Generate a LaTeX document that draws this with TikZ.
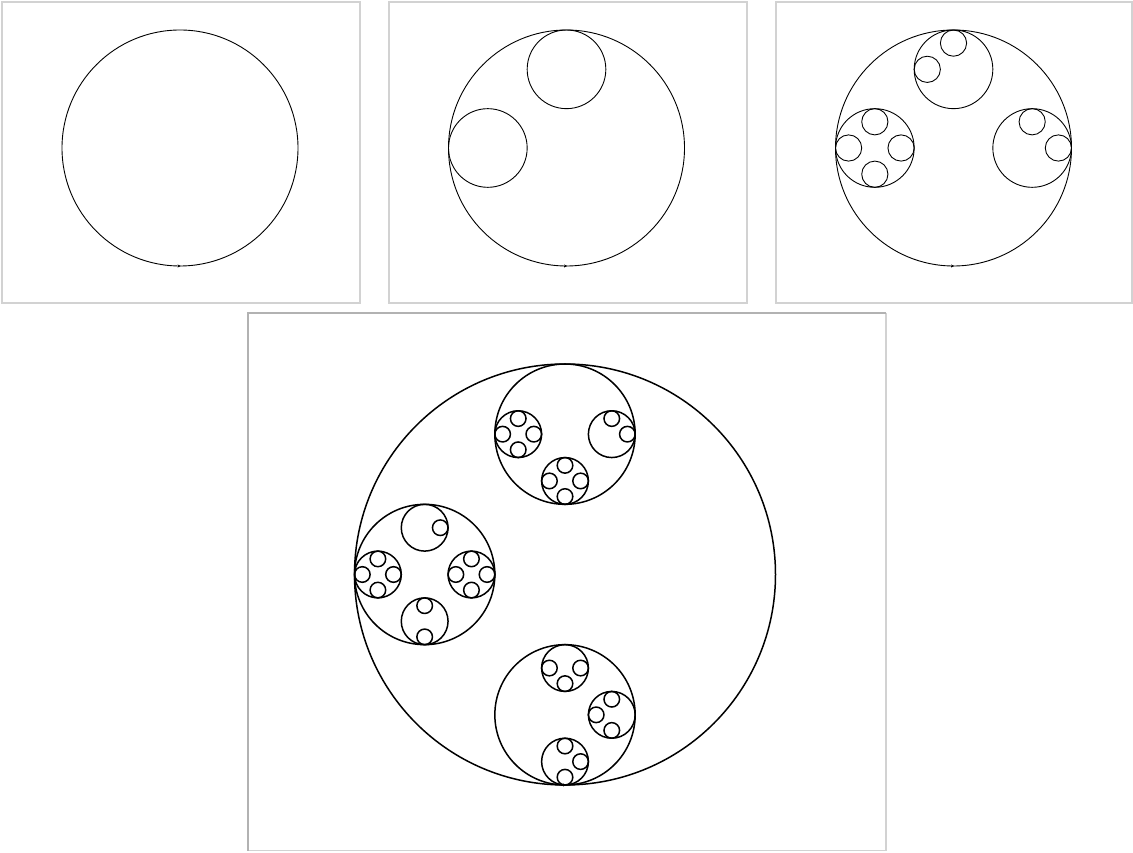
\documentclass[tikz,border=0pt]{standalone}
\usepackage{tikz}
\usetikzlibrary{arrows.meta}

\tikzset{
  frame/.style={draw=gray!35, line width=1.6pt},
  kid/.style={shift={(#1:2/3)}, scale=1/3},
}
% leaf rings inside the current circle
\newcommand{\smallrings}[1]{\foreach \a in {#1} {\draw (\a:2/3) circle (1/3);}}
% outer circle with its tick
\newcommand{\basering}{%
  \draw (0,0) circle (1);
  \draw[-{Stealth[length=3pt,width=3pt]}] (-0.02,-1) -- (0.005,-1);}

\begin{document}
\begin{tikzpicture}[x=1pt, y=1pt]
  \useasboundingbox (0,0) rectangle (1133,852);

  % --- frames ---
  \draw[frame] (2,850) rectangle (360,549);
  \draw[frame] (389,850) rectangle (747,549);
  \draw[frame] (776,850) rectangle (1132,549);
  \draw[frame] (886,539) -- (886,1.5) -- (248,1.5);
  \draw[frame, draw=gray!60] (248,1.5) -- (248,539) -- (886,539);

  % --- step 1 ---
  \begin{scope}[shift={(180,704)}, scale=118, line width=0.9pt]
    \basering
  \end{scope}

  % --- step 2 ---
  \begin{scope}[shift={(566.5,704)}, scale=118, line width=0.9pt]
    \basering
    \smallrings{90,180}
  \end{scope}

  % --- step 3 ---
  \begin{scope}[shift={(953.5,704)}, scale=118, line width=0.9pt]
    \basering
    \begin{scope}[kid=90]  \draw (0,0) circle (1); \smallrings{90,180} \end{scope}
    \begin{scope}[kid=180] \draw (0,0) circle (1); \smallrings{90,180,0,270} \end{scope}
    \begin{scope}[kid=0]   \draw (0,0) circle (1); \smallrings{90,0} \end{scope}
  \end{scope}

  % --- step 4 ---
  \begin{scope}[shift={(565,277.5)}, scale=210.5, line width=1.5pt]
    \basering
    % top
    \begin{scope}[kid=90]
      \draw (0,0) circle (1);
      \begin{scope}[kid=180] \draw (0,0) circle (1); \smallrings{90,180,0,270} \end{scope}
      \begin{scope}[kid=0]   \draw (0,0) circle (1); \smallrings{90,0} \end{scope}
      \begin{scope}[kid=270] \draw (0,0) circle (1); \smallrings{90,180,0,270} \end{scope}
    \end{scope}
    % left
    \begin{scope}[kid=180]
      \draw (0,0) circle (1);
      \begin{scope}[kid=90]  \draw (0,0) circle (1); \smallrings{0} \end{scope}
      \begin{scope}[kid=180] \draw (0,0) circle (1); \smallrings{90,180,0,270} \end{scope}
      \begin{scope}[kid=0]   \draw (0,0) circle (1); \smallrings{90,180,0,270} \end{scope}
      \begin{scope}[kid=270] \draw (0,0) circle (1); \smallrings{90,270} \end{scope}
    \end{scope}
    % bottom
    \begin{scope}[kid=270]
      \draw (0,0) circle (1);
      \begin{scope}[kid=90]  \draw (0,0) circle (1); \smallrings{180,0,270} \end{scope}
      \begin{scope}[kid=0]   \draw (0,0) circle (1); \smallrings{90,180,270} \end{scope}
      \begin{scope}[kid=270] \draw (0,0) circle (1); \smallrings{90,0,270} \end{scope}
    \end{scope}
  \end{scope}
\end{tikzpicture}
\end{document}
